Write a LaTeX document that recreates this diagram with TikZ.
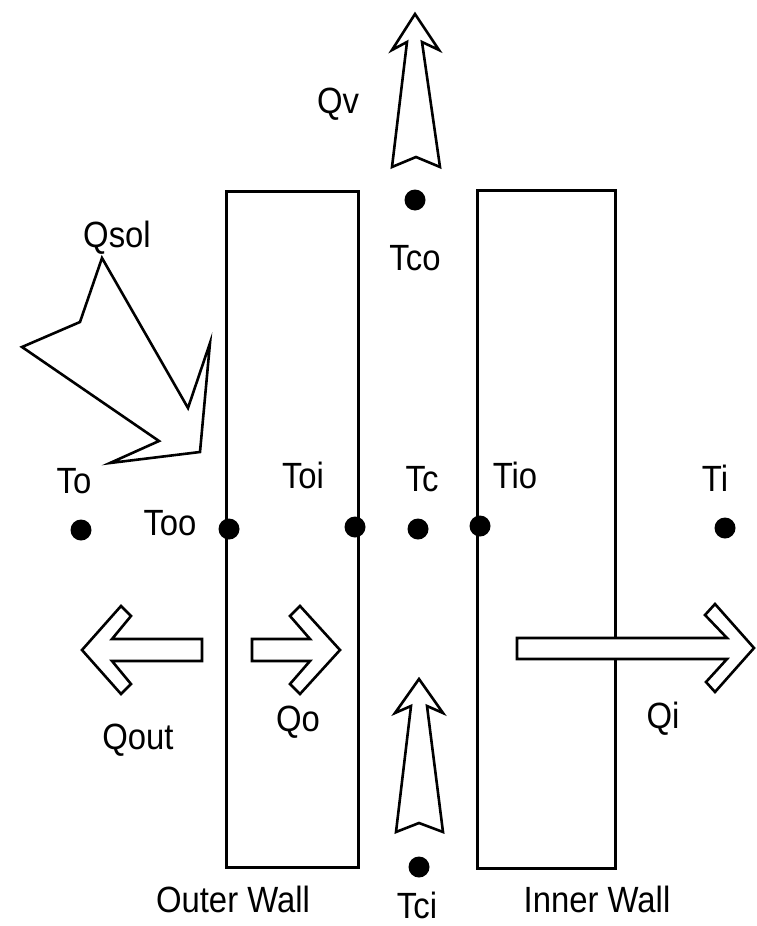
\documentclass[tikz,border=0pt]{standalone}
\usepackage{fontspec}
\setmainfont[FakeStretch=0.9]{Liberation Sans}
\begin{document}
\begin{tikzpicture}[x=1pt,y=-1pt,
  wall/.style={draw=black,line width=3pt},
  blockarrow/.style={draw=black,fill=white,line width=2.6pt,line join=miter},
  dot/.style={circle,fill=black,inner sep=0pt,minimum size=21pt},
  lbl/.style={inner sep=0pt,anchor=base,font=\fontsize{36.5}{40}\selectfont}]
\useasboundingbox (0,0) rectangle (756,926);
% walls
\draw[wall] (226,191) rectangle (358,867);
\draw[wall] (477,190) rectangle (615,868);
% arrows
\draw[blockarrow] (415,14) -- (439,50) -- (422,42) -- (440,167) -- (416,157) -- (392,167) -- (407,42) -- (392,50) -- cycle;
\draw[blockarrow] (419,679) -- (443,713) -- (427,706) -- (443,832) -- (419,823) -- (396,832) -- (411,706) -- (395,713) -- cycle;
\draw[blockarrow] (102,258) -- (80,322) -- (22,347) -- (159,441) -- (110,463) -- (200,452) -- (210,343) -- (188,408) -- cycle;
\draw[blockarrow] (82,650) -- (121,606) -- (131,616) -- (112,639) -- (202,639) -- (202,661) -- (112,661) -- (131,684) -- (121,694) -- cycle;
\draw[blockarrow] (252,639) -- (310,639) -- (290,616) -- (300,606) -- (340,650) -- (300,694) -- (290,684) -- (310,661) -- (252,661) -- cycle;
\draw[blockarrow] (517,638) -- (727,638) -- (705,615) -- (715,604) -- (754,648) -- (715,692) -- (706,682) -- (727,659) -- (517,659) -- cycle;
% dots
\node[dot] (To) at (81,530) {};
\node[dot] (Too) at (229,529) {};
\node[dot] (Toi) at (355,527) {};
\node[dot] (Tc) at (418,529) {};
\node[dot] (Tio) at (480,526) {};
\node[dot] (Ti) at (725,528) {};
\node[dot] (Tco) at (415,200) {};
\node[dot] (Tci) at (419,867) {};
% labels
\node[lbl] (lQsol) at (117,247) {Qsol};
\node[lbl] (lQv) at (338,113) {Qv};
\node[lbl] (lTco) at (415,270) {Tco};
\node[lbl] (lTo) at (74,493) {To};
\node[lbl] (lToo) at (170,535) {Too};
\node[lbl] (lToi) at (303,488) {Toi};
\node[lbl] (lTc) at (422,491) {Tc};
\node[lbl] (lTio) at (515,488) {Tio};
\node[lbl] (lTi) at (715,491) {Ti};
\node[lbl] (lQout) at (138,749) {Qout};
\node[lbl] (lQo) at (298,731) {Qo};
\node[lbl] (lQi) at (663,728) {Qi};
\node[lbl] (lOuter) at (233,912) {Outer Wall};
\node[lbl] (lInner) at (597,912) {Inner Wall};
\node[lbl] (lTci) at (417,918) {Tci};
\end{tikzpicture}
\end{document}
